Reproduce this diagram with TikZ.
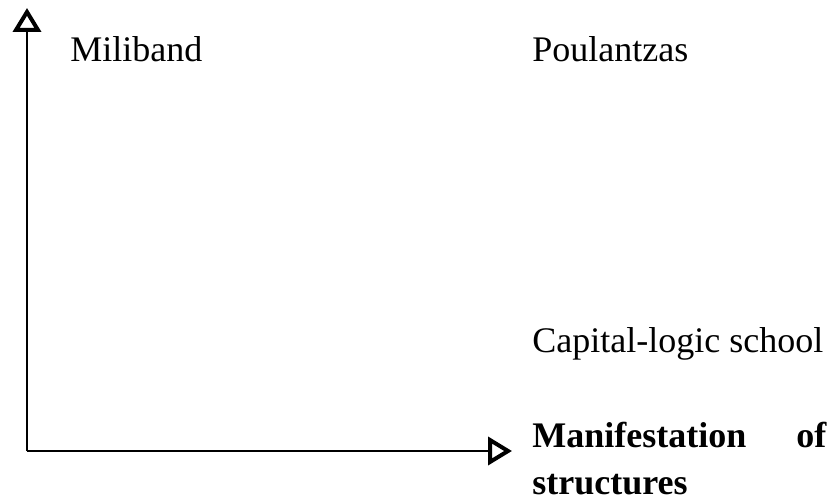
\documentclass[tikz,border=0pt]{standalone}
\usepackage{fontspec}
\setmainfont{Liberation Serif}
\usepackage{tikz}
\usetikzlibrary{arrows.meta}

\begin{document}
\begin{tikzpicture}[x=0.5pt,y=-0.5pt,
	axisarrow/.style={line width=1.2pt,-{Triangle[open,length=12pt,width=14pt,line width=2pt]}},
	axislabel/.style={anchor=base west,inner sep=0pt,font=\fontsize{18}{21}\selectfont}]
		\useasboundingbox (0,0) rectangle (836,502);
		\coordinate (origin) at (27,451);
		\coordinate (ytip) at (27,8);
		\coordinate (xtip) at (512,451);
	 	\draw[axisarrow] (origin) -- (ytip);
	 	\draw[axisarrow] (origin) -- (xtip);
	 	\node[axislabel] (miliband) at (70,62) {Miliband};
	 	\node[axislabel] (poulantzas) at (532,62) {Poulantzas};
	 	\node[axislabel] (capital) at (532,353) {Capital-logic school};
	 	\node[axislabel,text width=147pt,align=left,font=\fontsize{18}{21}\selectfont\bfseries] (manifest) at (532,448) {Manifestation\hfill of\\[2.5pt]structures};
	 	\end{tikzpicture}
\end{document}
